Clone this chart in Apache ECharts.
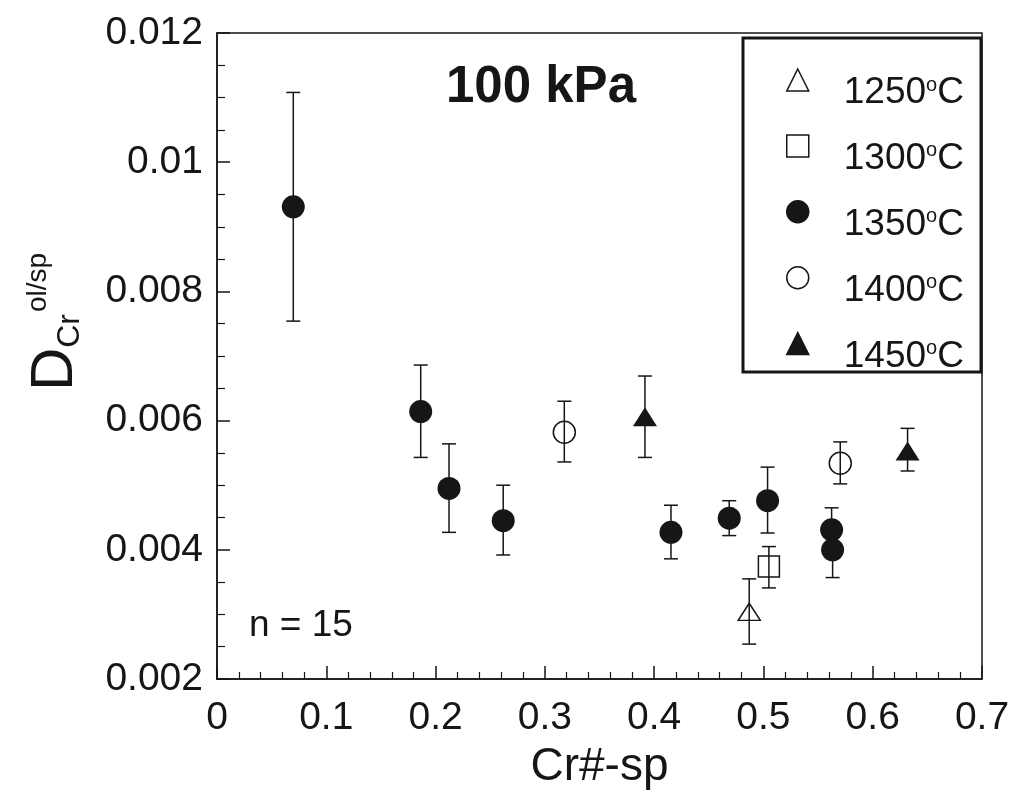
<!DOCTYPE html>
<html>
<head>
<meta charset="utf-8">
<script src="https://cdn.jsdelivr.net/npm/echarts@6/dist/echarts.min.js"></script>
<style>
html,body{margin:0;padding:0;background:#fff;}
#chart{width:1012px;height:790px;}
</style>
</head>
<body>
<div id="chart"></div>
<script>
// Data: [Cr#-sp, D, lower error, upper error]
const pts1250 = [[0.487, 0.00304, 0.00254, 0.00355]];
const pts1300 = [[0.505, 0.00374, 0.00341, 0.00405]];
const pts1350 = [
  [0.0698, 0.00931, 0.00754, 0.01108],
  [0.1864, 0.00614, 0.00543, 0.00686],
  [0.2123, 0.00495, 0.00427, 0.00564],
  [0.2619, 0.00445, 0.00392, 0.00500],
  [0.4154, 0.00427, 0.00386, 0.00469],
  [0.4687, 0.00449, 0.00422, 0.00476],
  [0.5038, 0.00476, 0.00426, 0.00528],
  [0.5624, 0.00431, 0.00396, 0.00465],
  [0.5633, 0.00400, 0.00357, 0.00443]
];
const pts1400 = [[0.3178, 0.00582, 0.00536, 0.00630], [0.5703, 0.00534, 0.00502, 0.00567]];
const pts1450 = [[0.3916, 0.00606, 0.00543, 0.00669], [0.6319, 0.00553, 0.00522, 0.00588]];
const seriesNames = ['1250°C', '1300°C', '1350°C', '1400°C', '1450°C'];
const xTicks = [0, 0.7, 0.1];
const yTicks = [0.002, 0.012, 0.002];

const FONT = 'Liberation Sans, Arial, Helvetica, sans-serif';
const INK = '#161616';
const CLEAR = 'rgba(255,255,255,0)';

function scatter(name, pts, symbol, size, filled) {
  return {
    type: 'scatter', name: name, symbol: symbol, symbolSize: size, z: 3,
    data: pts.map(p => [p[0], p[1]]),
    itemStyle: { color: filled ? INK : CLEAR, borderColor: INK, borderWidth: filled ? 0 : 1.5, opacity: 1 }
  };
}
const allPts = [].concat(pts1250, pts1300, pts1350, pts1400, pts1450);

const chart = echarts.init(document.getElementById('chart'), null, { renderer: 'canvas' });
const option = {
  animation: false,
  backgroundColor: '#fff',
  grid: { left: 217, top: 33, right: 30, bottom: 111, show: true, borderColor: INK, borderWidth: 1.5,
          containLabel: false, outerBoundsMode: 'none' },
  xAxis: {
    type: 'value', min: xTicks[0], max: xTicks[1], interval: xTicks[2],
    axisLine: { lineStyle: { color: INK, width: 1.5 } },
    axisTick: { inside: true, length: 13, lineStyle: { color: INK, width: 1.5 } },
    minorTick: { show: true, splitNumber: 5, length: 7, lineStyle: { color: INK, width: 1.2 } },
    splitLine: { show: false },
    axisLabel: { color: INK, fontSize: 39, fontFamily: FONT, margin: 20, formatter: v => String(+v.toFixed(1)) },
    name: 'Cr#-sp', nameLocation: 'middle', nameGap: 65,
    nameTextStyle: { color: INK, fontSize: 46, fontFamily: FONT }
  },
  yAxis: {
    type: 'value', min: yTicks[0], max: yTicks[1], interval: yTicks[2],
    axisLine: { lineStyle: { color: INK, width: 1.5 } },
    axisTick: { inside: true, length: 13, lineStyle: { color: INK, width: 1.5 } },
    minorTick: { show: true, splitNumber: 4, length: 8, lineStyle: { color: INK, width: 1.2 } },
    splitLine: { show: false },
    axisLabel: { color: INK, fontSize: 39, fontFamily: FONT, margin: 14, formatter: v => String(+v.toFixed(3)) }
  },
  legend: {
    orient: 'vertical', left: 781, top: 44, padding: 5, itemGap: 3.4,
    itemWidth: 22, itemHeight: 22,
    data: seriesNames,
    itemStyle: { borderWidth: 1.5, borderColor: INK },
    formatter: n => n.replace('°', '{sup|o}'),
    textStyle: {
      color: INK, fontSize: 37, fontFamily: FONT, lineHeight: 36, padding: [26, 0, 0, 30],
      rich: { sup: { fontSize: 20, lineHeight: 14, verticalAlign: 'top', fontFamily: FONT, color: INK } }
    }
  },
  graphic: [
    { type: 'rect', z: 10, shape: { x: 743, y: 38, width: 238, height: 334 },
      style: { fill: 'none', stroke: INK, lineWidth: 3 } },
    { type: 'text', z: 10, x: 541, y: 88,
      style: { text: '100 kPa', fontSize: 51, fontWeight: 'bold', fontFamily: FONT, fill: INK, align: 'center', verticalAlign: 'middle' } },
    { type: 'text', z: 10, x: 249, y: 626,
      style: { text: 'n = 15', fontSize: 37, fontFamily: FONT, fill: INK, align: 'left', verticalAlign: 'middle' } },
    { type: 'text', z: 10, x: 41, y: 322, rotation: Math.PI / 2,
      style: {
        text: '{d|D}{sub|Cr}{sup|ol/sp}', align: 'center', verticalAlign: 'middle', fill: INK, fontFamily: FONT,
        rich: {
          d: { fontSize: 60, lineHeight: 60, padding: [14, 0, 0, 0], verticalAlign: 'top', fontFamily: FONT, fill: INK },
          sub: { fontSize: 32, lineHeight: 32, padding: [43, 0, 0, 0], verticalAlign: 'top', fontFamily: FONT, fill: INK },
          sup: { fontSize: 28, lineHeight: 28, padding: [13, 0, 0, 2], verticalAlign: 'top', fontFamily: FONT, fill: INK }
        }
      } }
  ],
  series: [
    {
      type: 'custom', name: 'errors', z: 2, silent: true,
      data: allPts.map(p => [p[0], p[2], p[3]]),
      encode: { x: 0, y: [1, 2] },
      renderItem: function (params, api) {
        const x = api.value(0);
        const a = api.coord([x, api.value(1)]);
        const b = api.coord([x, api.value(2)]);
        const w = 7;
        const st = { stroke: INK, lineWidth: 1.5 };
        return {
          type: 'group', children: [
            { type: 'line', shape: { x1: a[0], y1: a[1], x2: b[0], y2: b[1] }, style: st },
            { type: 'line', shape: { x1: a[0] - w, y1: a[1], x2: a[0] + w, y2: a[1] }, style: st },
            { type: 'line', shape: { x1: b[0] - w, y1: b[1], x2: b[0] + w, y2: b[1] }, style: st }
          ]
        };
      }
    },
    scatter(seriesNames[0], pts1250, 'triangle', [22, 17], false),
    scatter(seriesNames[1], pts1300, 'rect', 21, false),
    scatter(seriesNames[2], pts1350, 'circle', 23, true),
    scatter(seriesNames[3], pts1400, 'circle', 22, false),
    scatter(seriesNames[4], pts1450, 'triangle', [24, 19], true)
  ]
};
chart.setOption(option);
</script>
</body>
</html>
